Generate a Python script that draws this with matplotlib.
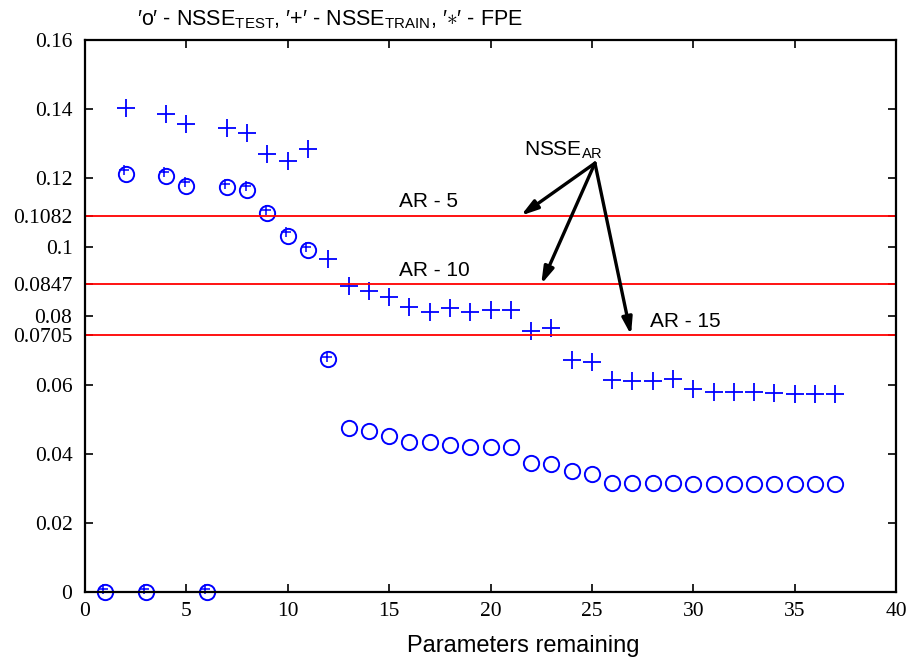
import matplotlib
matplotlib.use('Agg')
import matplotlib.pyplot as plt

plt.rcParams['mathtext.fontset'] = 'custom'
plt.rcParams['mathtext.rm'] = 'Liberation Sans'

# NSSE on the training set ('+')
train_x = [2, 4, 5, 7, 8, 9, 10, 11, 12, 13, 14, 15, 16, 17, 18, 19, 20, 21, 22, 23, 24,
           25, 26, 27, 28, 29, 30, 31, 32, 33, 34, 35, 36, 37]
train_y = [0.1404, 0.1386, 0.1356, 0.1344, 0.1330, 0.1270, 0.1250, 0.1283, 0.0965, 0.0888,
           0.0873, 0.0856, 0.0825, 0.0812, 0.0824, 0.0812, 0.0817, 0.0817, 0.0757, 0.0764,
           0.0672, 0.0668, 0.0614, 0.0612, 0.0612, 0.0617, 0.0588, 0.0581, 0.0581, 0.0581,
           0.0578, 0.0574, 0.0574, 0.0574]

# NSSE on the test set ('o')
test_x = list(range(1, 38))
test_y = [0.0, 0.1211, 0.0, 0.1207, 0.1178, 0.0, 0.1173, 0.1165, 0.1098, 0.1033, 0.0991,
          0.0674, 0.0476, 0.0467, 0.0453, 0.0436, 0.0436, 0.0426, 0.0421, 0.0421, 0.0421,
          0.0375, 0.0370, 0.0350, 0.0342, 0.0317, 0.0317, 0.0317, 0.0317, 0.0313, 0.0313,
          0.0313, 0.0313, 0.0313, 0.0313, 0.0313, 0.0313]

# FPE (small marks inside the circles)
fpe_x = [0.9, 1.92, 2.9, 3.92, 4.92, 5.9, 6.92, 7.92, 8.92, 9.92, 10.92, 11.92]
fpe_y = [0.0009, 0.1223, 0.0009, 0.1218, 0.1188, 0.0009, 0.1184, 0.1177, 0.1107, 0.1044,
         0.1001, 0.0682]

# linear AR reference levels: drawn position and printed label
ar_names = ['AR - 5', 'AR - 10', 'AR - 15']
ar_level = [0.1091, 0.0892, 0.0745]
ar_label = ['0.1082', '0.0847', '0.0705']
ar_text_x = [15.5, 15.5, 27.85]
arrow_end_x = [21.5, 22.5, 26.93]
arrow_start = (25.15, 0.1243)

yticks = [0, 0.02, 0.04, 0.06, 0.08, 0.1, 0.12, 0.14, 0.16]
yticklabels = ['0', '0.02', '0.04', '0.06', '0.08', '0.1', '0.12', '0.14', '0.16']
xticks = [0, 5, 10, 15, 20, 25, 30, 35, 40]

fig = plt.figure(figsize=(9.06, 6.63), dpi=100)
ax = fig.add_axes([0.0938, 0.1071, 0.8952, 0.8326])

ax.plot(train_x, train_y, '+', color='blue', markersize=13, markeredgewidth=1.3)
ax.plot(test_x, test_y, 'o', color='blue', markerfacecolor='none', markersize=11,
        markeredgewidth=1.4, clip_on=False)
ax.plot(fpe_x, fpe_y, '+', color='blue', markersize=7, markeredgewidth=1.1, clip_on=False)

for lev, name, tx, ex in zip(ar_level, ar_names, ar_text_x, arrow_end_x):
    ax.axhline(lev, color='red', linewidth=1.3)
    ax.text(tx, lev + 0.0012, name, fontsize=15, family='Liberation Sans', va='bottom')
    ax.annotate('', xy=(ex, lev), xytext=arrow_start,
                arrowprops=dict(arrowstyle='-|>,head_length=1.0,head_width=0.3',
                                color='black', linewidth=2.4, shrinkA=0, shrinkB=0))

ax.text(23.6, 0.1248, r'$\mathregular{NSSE_{AR}}$', fontsize=15, ha='center', va='bottom',
        family='Liberation Sans')

ax.set_xlim(0, 40)
ax.set_ylim(0, 0.16)
ax.set_xticks(xticks)
ax.set_xticklabels([str(t) for t in xticks])
ax.set_yticks(yticks + ar_level)
ax.set_yticklabels(yticklabels + ar_label)
for lab in ax.get_xticklabels() + ax.get_yticklabels():
    lab.set_family('Liberation Serif')
    lab.set_fontsize(15.5)
ax.tick_params(direction='in', top=True, right=True, length=6, width=1.2)
ax.tick_params(axis='y', pad=9)
ax.tick_params(axis='x', pad=7)
for s in ax.spines.values():
    s.set_linewidth(1.6)

ax.set_xlabel('Parameters remaining', fontsize=17, family='Liberation Sans')
ax.xaxis.set_label_coords(0.54, -0.078)

fig.text(0.364, 0.971,
         '\u2032o\u2032 - $\\mathregular{NSSE_{TEST}}$, \u2032+\u2032 - $\\mathregular{NSSE_{TRAIN}}$, '
         '\u2032$\\ast$\u2032 - FPE',
         fontsize=15.5, ha='center', va='center', family=['Liberation Sans', 'DejaVu Sans'])

fig.savefig('out.png', dpi=100)
